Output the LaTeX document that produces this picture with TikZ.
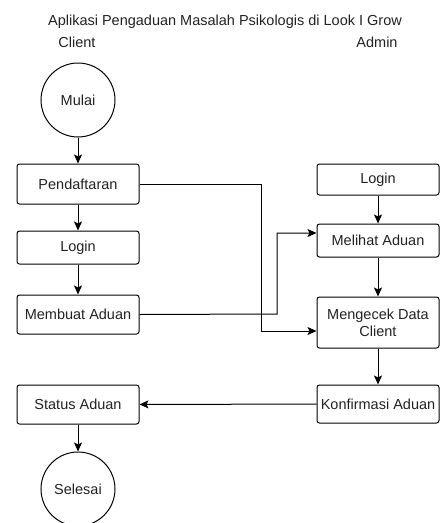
\documentclass[tikz,border=0pt]{standalone}
\usepackage{fontspec}
\setmainfont{Liberation Sans}
\usetikzlibrary{arrows.meta}
\definecolor{ink}{HTML}{222222}
\begin{document}
\begin{tikzpicture}[x=1pt,y=-1pt,
  font=\fontsize{14.5}{17}\selectfont, text=ink,
  box/.style={draw, rounded corners=2.5pt, line width=1pt, align=center,
    inner sep=0pt, minimum width=122pt},
  term/.style={draw, circle, line width=1pt, minimum size=74pt, inner sep=0pt},
  flow/.style={line width=1pt, -{Stealth[length=9pt,width=8pt,inset=2pt]}},
  lbl/.style={inner sep=0pt, anchor=base}]
\useasboundingbox (0,0) rectangle (445,523);
\node[lbl] (title) at (225,25) {Aplikasi Pengaduan Masalah Psikologis di Look I Grow};
\node[lbl] (client) at (77,47) {Client};
\node[lbl] (admin) at (377,47) {Admin};

% client lane
\node[term] (mulai) at (78,100) {Mulai};
\node[box, minimum height=40pt] (daftar) at (78,184) {Pendaftaran};
\node[box, minimum height=33pt] (loginc) at (78,247.5) {Login};
\node[box, minimum height=39pt] (buat) at (78,314.5) {Membuat Aduan};
\node[box, minimum height=39pt] (status) at (78,404.5) {Status Aduan};
\node[term] (selesai) at (78,489) {Selesai};

% admin lane
\node[box, minimum height=31pt] (logina) at (378,179.5) {Login};
\node[box, minimum height=33pt] (lihat) at (378,240.5) {Melihat Aduan};
\node[box, minimum height=51pt] (cek) at (378,322.5) {Mengecek Data\\Client};
\node[box, minimum height=38pt] (konf) at (378,404) {Konfirmasi Aduan};

\coordinate (d1) at (261,184);
\coordinate (d2) at (261,331);
\coordinate (b1) at (277,314);
\coordinate (b2) at (277,233);

\draw[flow] (mulai) -- (daftar);
\draw[flow] (daftar) -- (loginc);
\draw[flow] (loginc) -- (buat);
\draw[flow] (daftar.east) -- (d1) -- (d2) -- (cek.west |- d2);
\draw[flow] (buat.east) -- (b1) -- (b2) -- (lihat.west |- b2);
\draw[flow] (logina) -- (lihat);
\draw[flow] (lihat) -- (cek);
\draw[flow] (cek) -- (konf);
\draw[flow] (konf) -- (status);
\draw[flow] (status) -- (selesai);
\end{tikzpicture}
\end{document}
